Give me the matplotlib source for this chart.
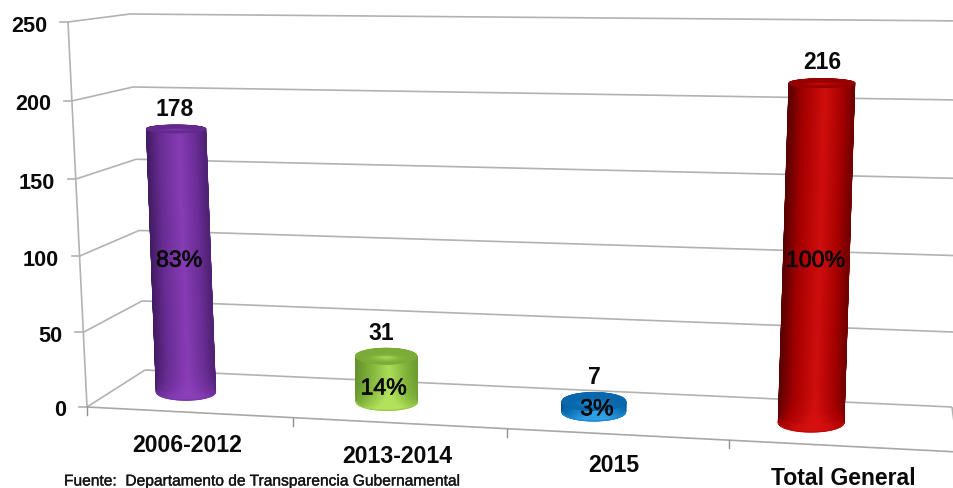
import numpy as np
import matplotlib
matplotlib.use("Agg")
import matplotlib.pyplot as plt
import matplotlib.patheffects as pe
from matplotlib.colors import LinearSegmentedColormap

# ---- data ----
categories = ["2006-2012", "2013-2014", "2015", "Total General"]
values = [178, 31, 7, 216]
shares = ["83%", "14%", "3%", "100%"]
y_ticks = [0, 50, 100, 150, 200, 250]
source = "Fuente:  Departamento de Transparencia Gubernamental"

# ---- perspective scale (pixels of the 954x489 canvas) ----
FL0, FL1 = np.array([87, 408.]), np.array([68, 23.])
FR0, FR1 = np.array([958, 453.]), np.array([978, 40.])
BL0, BL1 = np.array([145, 371.]), np.array([130, 15.])
BR0, BR1 = np.array([952, 408.]), np.array([969, 22.])
V_FRAC = [0, .194, .392, .592, .795, 1]
C_KNOTS = [0, .5, 1.5, 2.5, 3.5, 4]
U_FRONT = [0, .117, .357, .607, .867, 1]
U_BACK = [0, .047, .286, .529, .787, 1]


def project(c, v, d):
    c, v, d = np.asarray(c, float), np.asarray(v, float), np.asarray(d, float)
    uf = np.interp(c, C_KNOTS, U_FRONT)
    ub = np.interp(c, C_KNOTS, U_BACK)
    w = np.interp(v, y_ticks, V_FRAC)
    out = []
    for i in range(2):
        f = (1 - w) * ((1 - uf) * FL0[i] + uf * FR0[i]) + w * ((1 - uf) * FL1[i] + uf * FR1[i])
        b = (1 - w) * ((1 - ub) * BL0[i] + ub * BR0[i]) + w * ((1 - ub) * BL1[i] + ub * BR1[i])
        out.append((1 - d) * f + d * b)
    return out


fig = plt.figure(figsize=(9.54, 4.89), dpi=100, facecolor="white")
ax = fig.add_axes([0, 0, 1, 1])
ax.set_xlim(0, 954)
ax.set_ylim(489, 0)
ax.axis("off")
plt.rcParams["font.family"] = ["Liberation Sans", "DejaVu Sans"]

GRID = "#b2b2b2"
LW = 1.2
NC = len(categories)
INK = "#0a0a0a"


def line(c, v, d, **kw):
    x, y = project(c, v, d)
    ax.plot(x, y, color=kw.pop("color", GRID), lw=kw.pop("lw", LW), solid_capstyle="butt", zorder=1, **kw)


# walls and grid
for t in y_ticks:
    line([0, 0], [t, t], [0, 1])
    line([0, NC], [t, t], [1, 1])
    x, y = project(0, t, 0)
    ax.plot([x - 8, x], [y, y], color=GRID, lw=LW, zorder=1)
    ax.text(x - 21, y + 3, str(t), ha="right", va="center", fontsize=15.6,
            fontweight="bold", color=INK)
line([0, 0], [0, 250], [0, 0])
line([0, NC], [0, 0], [0, 0], color="#a8a8a8")
line([NC, NC], [0, 0], [0, 1])
for i in range(NC):
    x, y = project(i, 0, 0)
    ax.plot([x, x], [y, y + 8], color="#909090", lw=1, zorder=1)

# cylinders
palettes = [
    ("#3a1858", "#6a2d96", "#8a3eb8"),
    ("#5e8a28", "#7fb23a", "#b2e25c"),
    ("#06467c", "#0b6db4", "#2f9fe4"),
    ("#480000", "#a60000", "#d4100f"),
]
R_X, R_D, D0 = .143, .2, .5


def disk(c0, v, ca, sa):
    """Projected circle at height v around category position c0 (no tilt)."""
    cx, cy = project(c0, v, D0)
    i = int(c0)
    span = project(i + 1, 0, 0)[0] - project(i, 0, 0)[0]
    yf = project(c0, v, 0)[1]
    yb = project(c0, v, 1)[1]
    return cx + R_X * span * ca, cy - R_D * (yf - yb) * sa


for i, (val, pal) in enumerate(zip(values, palettes)):
    c0 = i + .5
    cmap = LinearSegmentedColormap.from_list("b", pal)
    th = np.linspace(np.pi, 2 * np.pi, 90)
    vv = np.linspace(0, val, 40)
    T, V = np.meshgrid(th, vv)
    X, Y = disk(c0, V, np.cos(T), np.sin(T))
    xs = (1 + np.cos(T)) / 2
    S = np.interp(xs, [0, .2, .55, .8, 1], [.08, .45, .95, .55, .22]) + .45 * np.exp(-V / 7)
    ax.pcolormesh(X, Y, S, cmap=cmap, vmin=0, vmax=1, shading="gouraud", zorder=3)
    # smooth silhouette
    ax.plot(X[:, 0], Y[:, 0], color=cmap(.12), lw=.9, zorder=3.5)
    ax.plot(X[:, -1], Y[:, -1], color=cmap(.25), lw=.9, zorder=3.5)
    ax.plot(X[0], Y[0], color=cmap(.75), lw=.9, zorder=3.5)
    # top cap
    th2 = np.linspace(0, 2 * np.pi, 120)
    rho = np.linspace(0, 1, 25)
    T2, P = np.meshgrid(th2, rho)
    a, b = P * np.cos(T2), P * np.sin(T2)
    Xc, Yc = disk(c0, val, a, b)
    Sc = .42 + .45 * np.exp(-(a ** 2 / .2 + (b + .25) ** 2 / .2))
    ax.pcolormesh(Xc, Yc, Sc, cmap=cmap, vmin=0, vmax=1, shading="gouraud", zorder=4)
    ax.plot(Xc[-1], Yc[-1], color=cmap(.42), lw=.9, zorder=4.5)

# value labels, share labels, category labels
val_off = [(-1, -20), (-5, -24), (0, -25), (0, -22)]
pct_off = [(-2, -2), (-3, 9), (3, 2), (-1, 5)]
cat_off = [(-2, 32), (-1, 32), (-2, 30), (1, 31)]
stroke = [pe.withStroke(linewidth=.5, foreground=INK)]
for i, val in enumerate(values):
    c0 = i + .5
    x, y = project(c0, val, D0)
    ax.text(x + val_off[i][0], y + val_off[i][1], str(val), ha="center", va="center",
            fontsize=16.5, fontweight="bold", color=INK, zorder=6)
    x, y = project(c0, val / 2, D0)
    ax.text(x + pct_off[i][0], y + pct_off[i][1], shares[i], ha="center", va="center",
            fontsize=16.6, color=INK, zorder=6, path_effects=stroke)
    x, y = project(c0, 0, 0)
    ax.text(x + cat_off[i][0], y + cat_off[i][1], categories[i], ha="center", va="center",
            fontsize=16.6, fontweight="bold", color=INK, zorder=6)

ax.text(64, 482, source, ha="left", va="center", fontsize=11.2, color="#141414",
        path_effects=[pe.withStroke(linewidth=.25, foreground="#141414")])

fig.savefig("out.png", dpi=100, facecolor="white")
